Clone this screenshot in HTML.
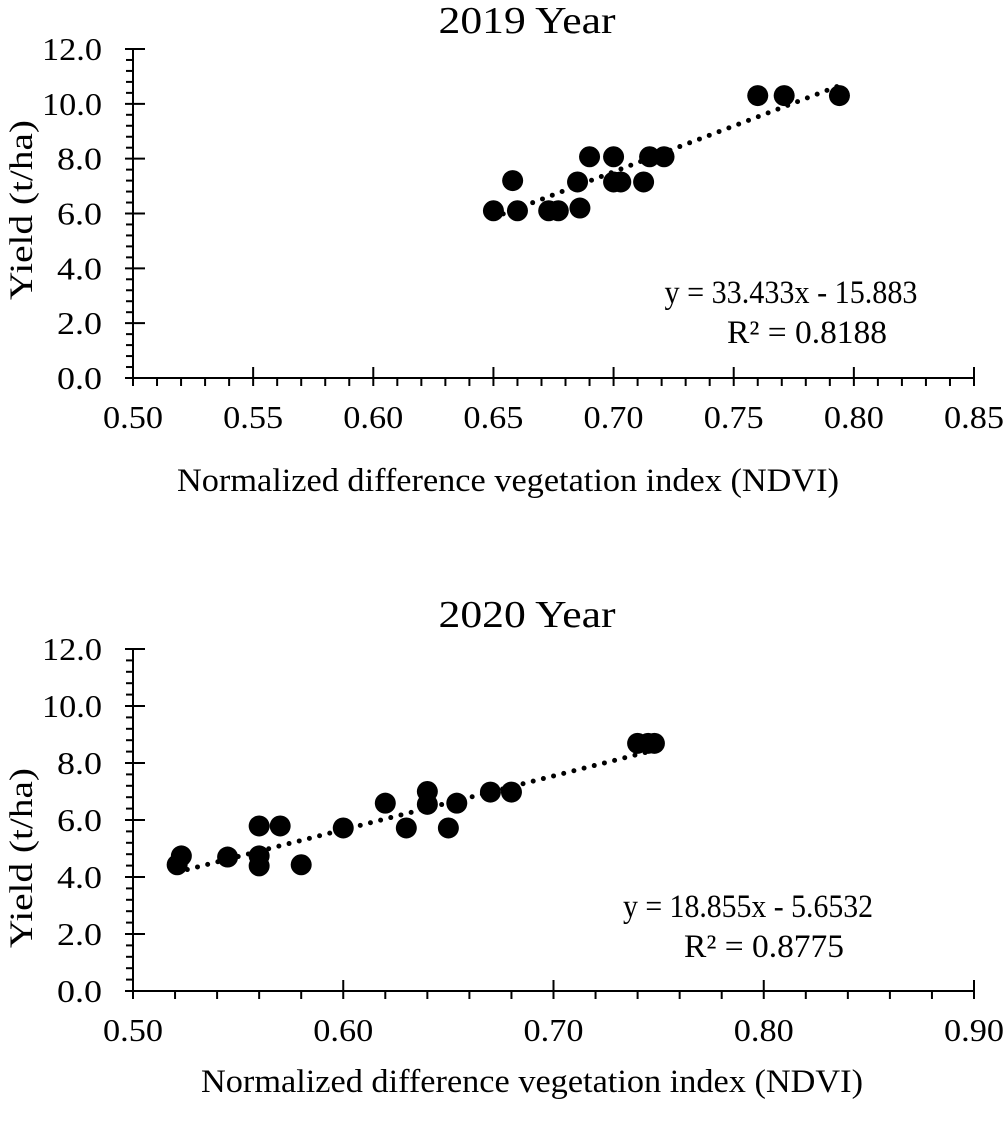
<!DOCTYPE html>
<html><head><meta charset="utf-8"><style>
html,body{margin:0;padding:0;background:#fff;}
svg{display:block;font-family:"Liberation Serif",serif;}
</style></head><body>
<svg id="fig" width="1004" height="1124" viewBox="0 0 1004 1124"></svg>
<script>
// 2019 data
const ndvi2019 = [0.650,0.660,0.658,0.673,0.677,0.686,0.685,0.690,0.700,0.700,0.703,0.7125,0.715,0.721,0.760,0.771,0.794];
const yield2019 = [6.1,6.1,7.2,6.1,6.1,6.2,7.15,8.07,8.07,7.15,7.15,7.15,8.07,8.07,10.3,10.3,10.3];
const xTicks2019 = ["0.50","0.55","0.60","0.65","0.70","0.75","0.80","0.85"];
const fit2019 = [33.433, -15.883];
// 2020 data
const ndvi2020 = [0.521,0.523,0.545,0.560,0.560,0.560,0.570,0.580,0.600,0.620,0.630,0.640,0.640,0.650,0.654,0.670,0.680,0.740,0.745,0.748];
const yield2020 = [4.43,4.74,4.7,5.79,4.74,4.39,5.79,4.43,5.72,6.59,5.72,7.0,6.55,5.72,6.59,6.98,6.98,8.69,8.69,8.69];
const xTicks2020 = ["0.50","0.60","0.70","0.80","0.90"];
const fit2020 = [18.855, -5.6532];
const yTicks = ["0.0","2.0","4.0","6.0","8.0","10.0","12.0"];

const NS="http://www.w3.org/2000/svg";
const svg=document.getElementById('fig');
function mk(tag,attrs,parent){const e=document.createElementNS(NS,tag);for(const k in attrs)e.setAttribute(k,attrs[k]);(parent||svg).appendChild(e);return e;}

function chart(o){
  const g=mk('g',{});
  
  
  const x0=133,x1=974;
  const xmin=parseFloat(o.xt[0]), xmax=parseFloat(o.xt[o.xt.length-1]);
  const sx=v=>x0+(v-xmin)/(xmax-xmin)*(x1-x0);
  const sy=v=>o.yb-(v/12)*(o.yb-o.yt);
  const ax=mk('line',{x1:x0,y1:o.yt,x2:x0,y2:o.yb,stroke:'#000','stroke-width':2},g);
  
  
  const bx=mk('line',{x1:x0,y1:o.yb,x2:x1,y2:o.yb,stroke:'#000','stroke-width':2},g);
  
  
  for(let i=0;i<=30;i++){const v=i*0.4,y=sy(v);const maj=i%5===0;
    mk('line',{x1:maj?x0-8:x0-7,y1:y,x2:maj?x0+12:x0,y2:y,stroke:'#000','stroke-width':2},g);}
  yTicks.forEach(t=>{const e=mk('text',{x:x0-31,y:sy(parseFloat(t))+11,'text-anchor':'end','font-size':32,textLength:t.length*15,lengthAdjust:'spacingAndGlyphs'},g);e.textContent=t;
    
    });
  const nmaj=o.xt.length-1;
  for(let i=0;i<=nmaj*5;i++){const v=xmin+(xmax-xmin)*i/(nmaj*5),x=sx(v);const maj=i%5===0;
    mk('line',{x1:x,y1:maj?o.yb-11:o.yb,x2:x,y2:o.yb+8,stroke:'#000','stroke-width':2},g);}
  o.xt.forEach(t=>{const e=mk('text',{x:sx(parseFloat(t)),y:o.yb+50,'text-anchor':'middle','font-size':32,textLength:60,lengthAdjust:'spacingAndGlyphs'},g);e.textContent=t;
    
    });
  o.xs.forEach((v,i)=>{const c=mk('circle',{cx:sx(v),cy:sy(o.ys[i]),r:10.5,fill:'#000'},g);
    
    });
  const xa=Math.min(...o.xs),xb=Math.max(...o.xs);
  const tl=mk('line',{x1:sx(xa),y1:sy(o.fit[0]*xa+o.fit[1]),x2:sx(xb),y2:sy(o.fit[0]*xb+o.fit[1]),stroke:'#000','stroke-width':5,'stroke-linecap':'round','stroke-dasharray':'0 10.5'},g);
  
  
  const ti=mk('text',{x:527,y:o.titleY,'text-anchor':'middle','font-size':38,textLength:177,lengthAdjust:'spacingAndGlyphs'},g);ti.textContent=o.title;
  
  
  const xl=mk('text',{x:o.xlX,y:o.xlY,'text-anchor':'middle','font-size':33,textLength:662,lengthAdjust:'spacingAndGlyphs'},g);xl.textContent='Normalized difference vegetation index (NDVI)';
  
  
  const yl=mk('text',{x:0,y:0,'text-anchor':'middle','font-size':33,textLength:180,lengthAdjust:'spacingAndGlyphs',transform:`translate(32,${o.ylY}) rotate(-90)`},g);yl.textContent='Yield (t/ha)';
  
  
  const e1=mk('text',{x:o.eqX,y:o.eqY,'text-anchor':'middle','font-size':33,textLength:o.eqW,lengthAdjust:'spacingAndGlyphs'},g);e1.textContent=o.eq;
  
  
  const e2=mk('text',{x:o.eqX+16,y:o.eqY+40,'text-anchor':'middle','font-size':33,textLength:160,lengthAdjust:'spacingAndGlyphs'},g);e2.textContent=o.r2;
  
  
}
chart({name:'chart-2019',xs:ndvi2019,ys:yield2019,xt:xTicks2019,fit:fit2019,yt:49,yb:378,title:'2019 Year',titleY:33,xlX:508,xlY:491,ylY:210,eqX:791,eqW:253,eqY:303,eq:'y = 33.433x - 15.883',r2:'R² = 0.8188'});
chart({name:'chart-2020',xs:ndvi2020,ys:yield2020,xt:xTicks2020,fit:fit2020,yt:649,yb:991,title:'2020 Year',titleY:627,xlX:532,xlY:1092,ylY:858,eqX:748,eqW:250,eqY:917,eq:'y = 18.855x - 5.6532',r2:'R² = 0.8775'});
</script>
</body></html>
